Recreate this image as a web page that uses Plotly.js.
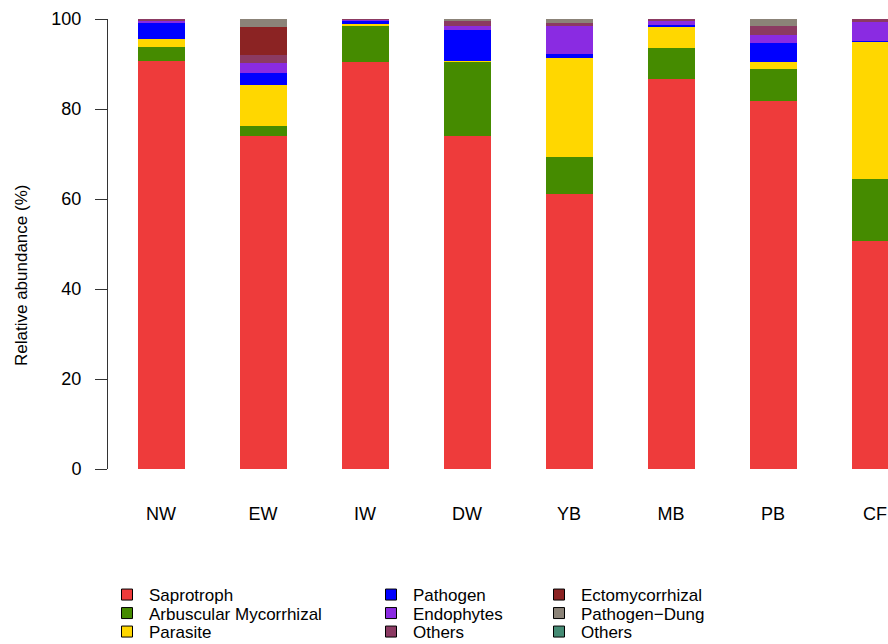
<!DOCTYPE html>
<html>
<head>
<meta charset="utf-8">
<script src="https://cdn.plot.ly/plotly-3.0.1.min.js"></script>
<style>
  html, body { margin: 0; padding: 0; background: #fff; }
  #chart { width: 888px; height: 644px; }
</style>
</head>
<body>
<div id="chart"></div>
<script>
// Sites (x categories)
const sites = ["NW", "EW", "IW", "DW", "YB", "MB", "PB", "CF"];

// Relative abundance (%) of each fungal functional guild per site
const saprotroph  = [90.7, 73.9, 90.4, 73.9, 61.1, 86.7, 81.8, 50.6];
const arbuscular  = [ 3.1,  2.3,  8.0, 16.5,  8.2,  6.9,  7.0, 13.8];
const parasite    = [ 1.7,  9.2,  0.6,  0.2, 22.0,  4.7,  1.7, 30.4];
const pathogen    = [ 3.7,  2.5,  0.6,  7.0,  0.9,  0.3,  4.1,  0.4];
const endophytes  = [ 0.3,  2.3,  0.1,  0.8,  6.2,  1.0,  1.8,  4.1];
const othersA     = [ 0.5,  1.7,  0.3,  1.2,  0.8,  0.4,  2.0,  0.7];
const ectomyc     = [ 0.0,  6.4,  0.0,  0.0,  0.0,  0.0,  0.0,  0.0];
const pathDung    = [ 0.0,  1.7,  0.0,  0.4,  0.8,  0.0,  1.6,  0.0];
const othersB     = [ 0.0,  0.0,  0.0,  0.0,  0.0,  0.0,  0.0,  0.0];

const yTicks = [0, 20, 40, 60, 80, 100];

// Guilds in stacking order (bottom to top); key placed in a 3 x 3 grid (col, row)
const guilds = [
  { name: "Saprotroph",             values: saprotroph, color: "#EE3B3B", col: 0, row: 0 },
  { name: "Arbuscular Mycorrhizal", values: arbuscular, color: "#458B00", col: 0, row: 1 },
  { name: "Parasite",               values: parasite,   color: "#FFD700", col: 0, row: 2 },
  { name: "Pathogen",               values: pathogen,   color: "#0000FF", col: 1, row: 0 },
  { name: "Endophytes",             values: endophytes, color: "#8A2BE2", col: 1, row: 1 },
  { name: "Others",                 values: othersA,    color: "#8B3A62", col: 1, row: 2 },
  { name: "Ectomycorrhizal",        values: ectomyc,    color: "#8B2323", col: 2, row: 0 },
  { name: "Pathogen\u2212Dung",     values: pathDung,   color: "#8B8378", col: 2, row: 1 },
  { name: "Others",                 values: othersB,    color: "#458B74", col: 2, row: 2 }
];

const xIdx = sites.map((_, i) => i);
const traces = [];

// Stacked bars
guilds.forEach(g => {
  traces.push({
    type: "bar",
    x: xIdx,
    y: g.values,
    width: 0.46,
    marker: { color: g.color, line: { width: 0 } },
    name: g.name,
    showlegend: false,
    hoverinfo: "name+y"
  });
});

// Pixel helpers relative to plot area (x: 108..888, y: 19..469)
const px = v => (v - 108) / 780;
const py = v => (469 - v) / 450;

const legendCols = [105, 369, 537];
const legendRows = [595, 613.5, 632];

const layout = {
  width: 888,
  height: 644,
  margin: { l: 108, r: 0, t: 19, b: 175, autoexpand: false },
  paper_bgcolor: "#fff",
  plot_bgcolor: "#fff",
  barmode: "stack",
  bargap: 0,
  font: { family: "Liberation Sans, Arial, sans-serif", size: 17, color: "#000" },
  xaxis: {
    range: [-0.52, 7.127],
    tickvals: xIdx,
    ticktext: sites,
    showline: false,
    showgrid: false,
    zeroline: false,
    ticks: "",
    ticklabelstandoff: 32,
    tickfont: { size: 18, color: "#000" },
    fixedrange: true
  },
  yaxis: {
    range: [0, 100],
    tickvals: yTicks,
    ticktext: yTicks.map(String),
    showline: true,
    linecolor: "#333",
    linewidth: 1,
    ticks: "outside",
    ticklen: 12,
    tickwidth: 1,
    tickcolor: "#333",
    ticklabelstandoff: 10,
    showgrid: false,
    zeroline: false,
    tickfont: { size: 18, color: "#000" },
    fixedrange: true
  },
  annotations: [{
    text: "Relative abundance (%)",
    xref: "paper", yref: "paper",
    x: px(21), y: py(276),
    xanchor: "center", yanchor: "middle",
    textangle: -90,
    showarrow: false,
    font: { size: 17, color: "#000" }
  }],
  showlegend: true
};

// Legend keys: one outlined square per guild, each in its own legend box
guilds.forEach((g, i) => {
  const key = i === 0 ? "legend" : "legend" + (i + 1);
  traces.push({
    type: "scatter",
    mode: "markers",
    x: [null],
    y: [null],
    name: g.name,
    legend: key,
    marker: { symbol: "square", size: 11, color: g.color, line: { color: "#000", width: 1 } },
    hoverinfo: "skip"
  });
  layout[key] = {
    orientation: "v",
    xanchor: "left",
    yanchor: "middle",
    x: px(legendCols[g.col]),
    y: py(legendRows[g.row]),
    itemwidth: 34,
    bgcolor: "rgba(0,0,0,0)",
    font: { family: "Liberation Sans, Arial, sans-serif", size: 17, color: "#000" },
    itemclick: false,
    itemdoubleclick: false
  };
});

Plotly.newPlot("chart", traces, layout, { displayModeBar: false, staticPlot: true });
</script>
</body>
</html>
